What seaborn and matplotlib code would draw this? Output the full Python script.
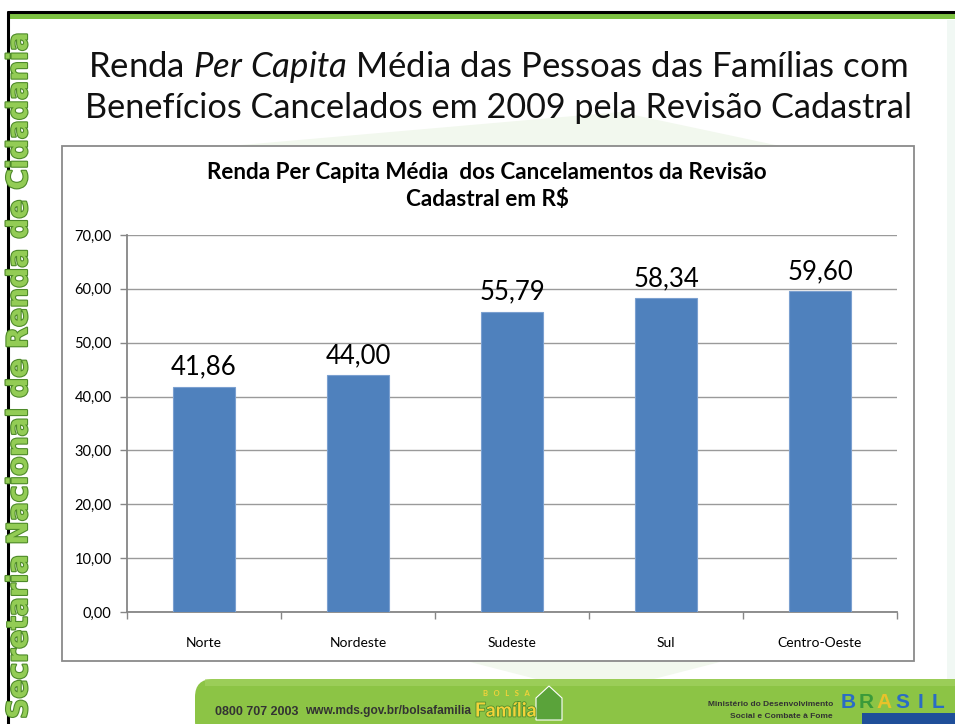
import numpy as np
import pandas as pd
import seaborn as sns
import matplotlib.pyplot as plt
import matplotlib.patheffects as pe
from matplotlib.patches import Rectangle, FancyBboxPatch, Polygon
from matplotlib.ticker import FuncFormatter, MultipleLocator

# Dados do gráfico
regioes = ['Norte', 'Nordeste', 'Sudeste', 'Sul', 'Centro-Oeste']
renda_media = [41.86, 44.00, 55.79, 58.34, 59.60]

titulo_slide_1 = r'Renda $\mathit{Per\ Capita}$ Média das Pessoas das Famílias com'
titulo_slide_2 = 'Benefícios Cancelados em 2009 pela Revisão Cadastral'
titulo_grafico = 'Renda Per Capita Média  dos Cancelamentos da Revisão\nCadastral em R$'

df = pd.DataFrame({'regiao': regioes, 'renda': renda_media})

sns.set_theme(style='white')
plt.rcParams['font.family'] = ['Lato', 'DejaVu Sans']
plt.rcParams['mathtext.fontset'] = 'custom'
plt.rcParams['mathtext.rm'] = 'Lato'
plt.rcParams['mathtext.it'] = 'Lato:italic'

W, H = 955, 724
fig = plt.figure(figsize=(W / 100, H / 100), dpi=100)
fig.patch.set_facecolor('white')

# camada de fundo em pixels para a moldura do slide
bg = fig.add_axes([0, 0, 1, 1])
bg.set_xlim(0, W)
bg.set_ylim(H, 0)
bg.axis('off')

# marca d'água verde bem clara
bg.add_patch(Polygon([[230, 146], [620, 112], [780, 146]], closed=True,
                     facecolor='#f2f8ee', edgecolor='none'))
bg.add_patch(Polygon([[470, 662], [720, 662], [650, 680], [540, 680]], closed=True,
                     facecolor='#f2f8ee', edgecolor='none'))
bg.add_patch(Rectangle((947, 20), 8, 660, facecolor='#f1f8f4', edgecolor='none'))

# moldura superior e lateral
bg.plot([8, W], [12, 12], color='black', lw=2.2)
bg.add_patch(Rectangle((9, 13), W, 6, facecolor='#7dc242', edgecolor='none'))
bg.plot([8, 8], [12, H], color='black', lw=2.2)

bg.text(19, 374, 'Secretaria Nacional de Renda de Cidadania', rotation=90,
        ha='center', va='center', fontsize=20.3, fontweight='bold',
        family='DejaVu Sans', color='#93cc55',
        path_effects=[pe.withStroke(linewidth=1.6, foreground='#4e8a2a')])

# títulos do slide
bg.text(498, 77, titulo_slide_1, ha='center', va='baseline', fontsize=25, color='#111111')
bg.text(498, 118, titulo_slide_2, ha='center', va='baseline', fontsize=24.7, color='#111111')

# caixa do gráfico
bg.add_patch(Rectangle((62, 146), 852, 515, facecolor='white', edgecolor='#8a8a8a', lw=1.3))
bg.text(487, 186, titulo_grafico, ha='center', va='center', fontsize=16.2,
        fontweight='bold', color='black', linespacing=1.3)

# rodapé
bg.add_patch(FancyBboxPatch((195, 679), 800, 60,
                            boxstyle='round,pad=0,rounding_size=18',
                            facecolor='#8cc445', edgecolor='none'))
bg.add_patch(Rectangle((205, 679), 790, 7, facecolor='#a6d466', edgecolor='none', alpha=0.6))
bg.text(215, 712, '0800 707 2003', ha='left', va='center', fontsize=9,
        fontweight='bold', family='Liberation Sans', color='#333333')
bg.text(305, 711, 'www.mds.gov.br/bolsafamilia', ha='left', va='center', fontsize=8.6,
        fontweight='bold', family='Liberation Sans', color='#333333')
bg.text(506, 693, 'B   O   L   S   A', ha='center', va='center', fontsize=5.5,
        fontweight='bold', color='#f2d33a')
bg.text(506, 711, 'Família', ha='center', va='center', fontsize=14,
        fontweight='bold', color='#f2d33a',
        path_effects=[pe.withStroke(linewidth=1.2, foreground='#4f8f2f')])
bg.add_patch(Polygon([[536, 720], [536, 698], [549, 686], [562, 698], [562, 720]],
                     closed=True, facecolor='#5aa33a', edgecolor='white', lw=0.8))
bg.text(833, 705, 'Ministério do Desenvolvimento', ha='right', va='center', fontsize=6,
        fontweight='bold', family='Liberation Sans', color='#333333')
bg.text(833, 716, 'Social e Combate à Fome', ha='right', va='center', fontsize=6,
        fontweight='bold', family='Liberation Sans', color='#333333')
letras_cores = ['#2a6cc4', '#3a9a3a', '#e8c22a', '#2a6cc4', '#2a6cc4', '#2a6cc4']
for i, (letra, cor) in enumerate(zip('BRASIL', letras_cores)):
    bg.text(848 + i * 18, 702, letra, ha='center', va='center', fontsize=15,
            fontweight='bold', family='Liberation Sans', color=cor)
bg.add_patch(Rectangle((862, 713), 93, 11, facecolor='#1f4f99', edgecolor='none'))

# eixo do gráfico
ax = fig.add_axes([127 / W, 1 - 612 / H, 770 / W, 377 / H])
ax.set_facecolor('none')
sns.barplot(data=df, x='regiao', y='renda', color='#4f81bd', width=0.4,
            saturation=1, edgecolor='#7ba0d0', linewidth=0.8, ax=ax, zorder=3)

ax.set_ylim(0, 70)
ax.set_xlim(-0.5, len(regioes) - 0.5)
ax.yaxis.set_major_locator(MultipleLocator(10))
ax.yaxis.set_major_formatter(FuncFormatter(lambda v, p: f'{v:.2f}'.replace('.', ',')))
ax.grid(axis='y', color='#9a9a9a', lw=1, zorder=0)
ax.set_xlabel('')
ax.set_ylabel('')

for s in ['top', 'right']:
    ax.spines[s].set_visible(False)
for s in ['left', 'bottom']:
    ax.spines[s].set_color('#868686')
    ax.spines[s].set_linewidth(1.3)

ax.set_xticks(np.arange(len(regioes)))
ax.set_xticklabels(regioes)
ax.set_xticks(np.arange(-0.5, len(regioes)), minor=True)
ax.tick_params(axis='x', which='major', length=0, pad=18, labelsize=10, labelcolor='black')
ax.tick_params(axis='x', which='minor', length=5, width=1, color='#868686', direction='out', bottom=True)
ax.tick_params(axis='y', length=5, width=1, color='#868686', direction='out', left=True,
               pad=6, labelsize=10.5, labelcolor='black')

for i, v in enumerate(renda_media):
    ax.text(i, v + 2.2, f'{v:.2f}'.replace('.', ','), ha='center', va='baseline',
            fontsize=18.5, color='black')

fig.savefig('out.png', dpi=100)
